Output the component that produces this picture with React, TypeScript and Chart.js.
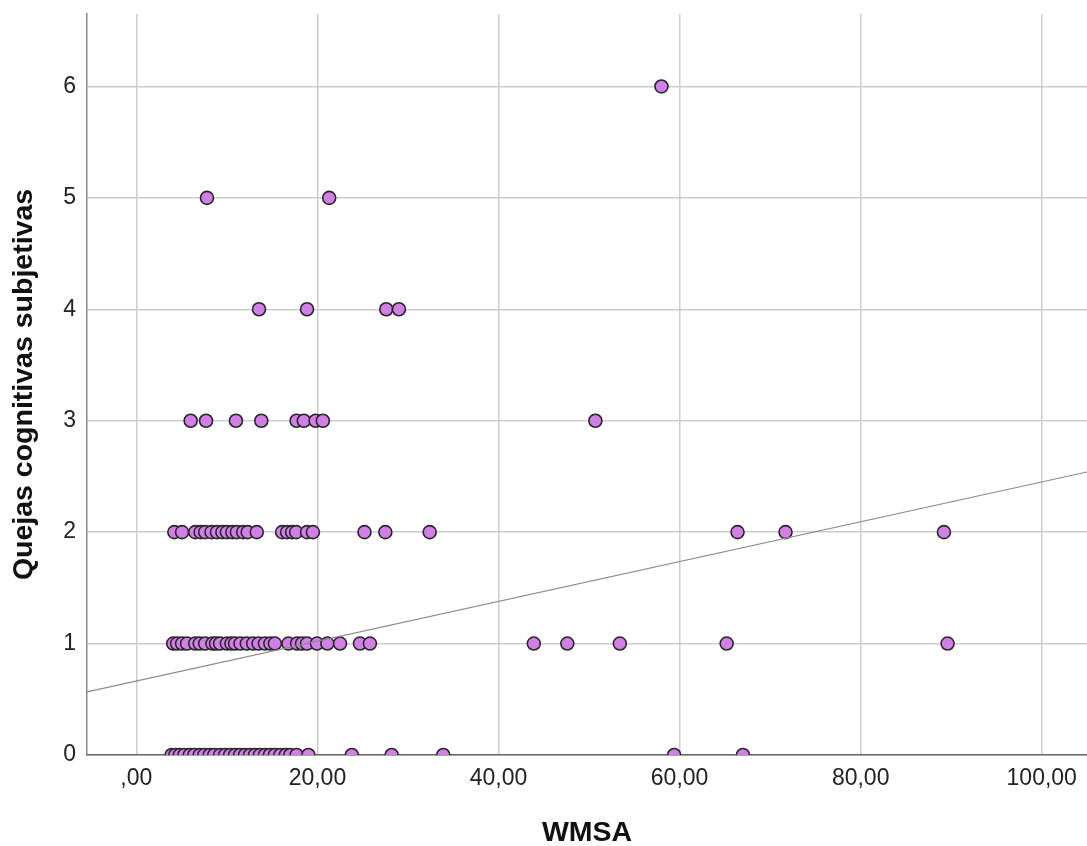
import React, { useEffect, useRef } from "react";
import { Chart, registerables } from "chart.js";

Chart.register(...registerables);

// WMSA values for each level of "Quejas cognitivas subjetivas"
const wmsaAt0 = [3.9, 4.3, 4.8, 5.3, 5.9, 6.4, 7.0, 7.5, 8.1, 8.6, 9.25, 9.8, 10.35, 10.9, 11.45, 12.0, 12.55, 13.1, 13.65, 14.2, 14.75, 15.3, 15.9, 16.5, 17.0, 17.7, 19.0, 23.8, 28.2, 33.9, 59.4, 67.0];
const wmsaAt1 = [4.07, 4.5, 5.05, 5.6, 6.5, 7.0, 7.6, 8.4, 8.8, 9.25, 10.0, 10.5, 10.9, 11.5, 12.2, 12.9, 13.5, 14.2, 14.8, 15.3, 16.8, 17.75, 18.3, 18.85, 19.95, 21.1, 22.5, 24.7, 25.8, 43.9, 47.6, 53.4, 65.2, 89.6];
const wmsaAt2 = [4.2, 5.05, 6.5, 7.1, 7.6, 8.3, 8.9, 9.5, 10.0, 10.6, 11.1, 11.8, 12.3, 13.3, 16.1, 16.65, 17.2, 17.65, 18.85, 19.5, 25.2, 27.5, 32.4, 66.4, 71.7, 89.2];
const wmsaAt3 = [6.0, 7.7, 11.0, 13.8, 17.7, 18.5, 19.8, 20.6, 50.7];
const wmsaAt4 = [13.55, 18.85, 27.6, 29.0];
const wmsaAt5 = [7.8, 21.3];
const wmsaAt6 = [58.0];

const complaintLevels = [0, 1, 2, 3, 4, 5, 6];
const wmsaByLevel = [wmsaAt0, wmsaAt1, wmsaAt2, wmsaAt3, wmsaAt4, wmsaAt5, wmsaAt6];

// Fit line (linear regression) endpoints in data units
const fitX = [-5.45, 105.0];
const fitY = [0.566, 2.54];

const xTicks = [0, 20, 40, 60, 80, 100];
const yTicks = [0, 1, 2, 3, 4, 5, 6];
const xRange = [-5.45, 105.0];
const yRange = [0, 6.65];

export default function App() {
  const ref = useRef<HTMLCanvasElement | null>(null);

  useEffect(() => {
    if (!ref.current) return;
    const points: { x: number; y: number }[] = [];
    complaintLevels.forEach((lvl, i) => {
      wmsaByLevel[i].forEach((x) => points.push({ x, y: lvl }));
    });
    const linePts = fitX.map((x, i) => ({ x, y: fitY[i] }));

    const tickFont = { family: "'Liberation Sans', Arial, sans-serif", size: 23 };
    const titleFont = { family: "'Liberation Sans', Arial, sans-serif", size: 28.5, weight: "bold" as const, lineHeight: 1 };

    const chart = new Chart(ref.current, {
      type: "scatter",
      data: {
        datasets: [
          { type: "line", data: linePts, borderColor: "#8a8a8a", borderWidth: 1.2, pointRadius: 0, fill: false, order: 0, clip: 0 } as any,
          { type: "scatter", data: points, backgroundColor: "#d280e8", borderColor: "#262626", borderWidth: 1.6, pointRadius: 6.5, pointHoverRadius: 6.5, order: 1, clip: 0 } as any,
        ],
      },
      options: {
        animation: false,
        responsive: false,
        maintainAspectRatio: false,
        devicePixelRatio: 1,
        layout: { autoPadding: false, padding: { top: 14, right: 0, left: 0, bottom: 0 } },
        plugins: { legend: { display: false }, tooltip: { enabled: false } },
        scales: {
          x: {
            type: "linear", min: xRange[0], max: xRange[1],
            afterBuildTicks: (s: any) => { s.ticks = xTicks.map((v) => ({ value: v })); },
            afterFit: (s: any) => { s.height = 91; s.paddingLeft = 0; s.paddingRight = 0; },
            grid: { color: "#cdcdcd", lineWidth: 1.5, drawTicks: false },
            border: { display: true, color: "#666", width: 1.5 },
            ticks: { font: tickFont, color: "#222", padding: 10, maxRotation: 0,
              callback: (v: any) => (v === 0 ? ",00" : Number(v).toFixed(2).replace(".", ",")) },
            title: { display: true, text: "WMSA", font: titleFont, color: "#111", padding: { top: 0, bottom: -1 } },
          },
          y: {
            type: "linear", min: yRange[0], max: yRange[1],
            afterBuildTicks: (s: any) => { s.ticks = yTicks.map((v) => ({ value: v })); },
            afterFit: (s: any) => { s.width = 87; s.paddingTop = 0; s.paddingBottom = 0; },
            grid: { color: "#cdcdcd", lineWidth: 1.5, drawTicks: false },
            border: { display: true, color: "#888", width: 1.5 },
            ticks: { font: tickFont, color: "#222", padding: 11 },
            title: { display: true, text: "Quejas cognitivas subjetivas", font: titleFont, color: "#111", padding: { top: 10, bottom: 0 } },
          },
        },
      },
    });
    return () => chart.destroy();
  }, []);

  return (
    <div style={{ position: "fixed", left: 0, top: 0, width: 1087, height: 846, background: "#fff" }}>
      <canvas ref={ref} width={1087} height={846} style={{ display: "block", width: 1087, height: 846 }} />
    </div>
  );
}
